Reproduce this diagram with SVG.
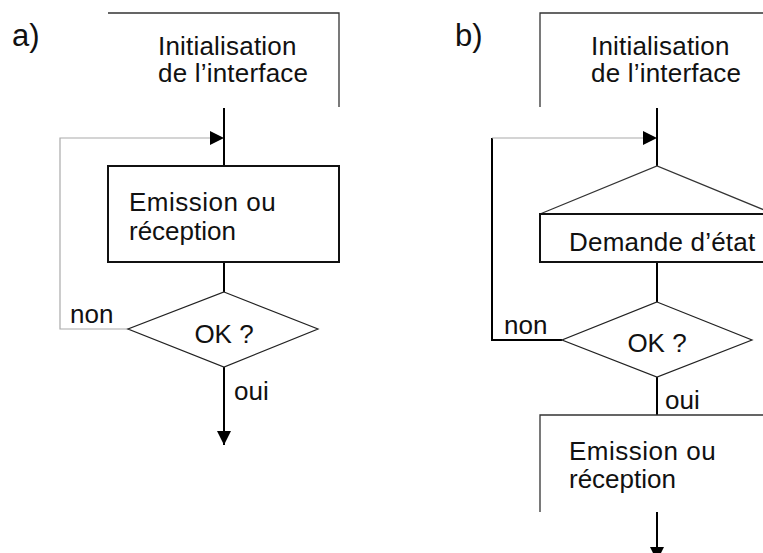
<svg xmlns="http://www.w3.org/2000/svg" width="763" height="553" viewBox="0 0 763 553">
<style>
text{font-family:"Liberation Sans",Arial,Helvetica,sans-serif;font-size:26px;fill:#111}
.lbl{font-size:31px}
.box{fill:none;stroke:#111;stroke-width:2}
.thin{fill:none;stroke:#333;stroke-width:1.3}
.dia{fill:#fff;stroke:#222;stroke-width:1.2}
.flow{fill:none;stroke:#000;stroke-width:2}
.loop{fill:none;stroke:#aaa;stroke-width:1.2}
</style>
<defs>
<marker id="ah" markerUnits="userSpaceOnUse" markerWidth="15" markerHeight="15" refX="14" refY="7" orient="auto">
<path d="M0,0 L14,7 L0,14 z" fill="#000"/>
</marker>
</defs>
<rect width="763" height="553" fill="#fff"/>
<text class="lbl" x="12" y="46">a)</text>
<text class="lbl" x="455" y="46">b)</text>
<g id="connectors">
<line class="flow" x1="224" y1="108" x2="224" y2="166"/>
<line class="flow" x1="224" y1="262" x2="224" y2="292"/>
<line class="flow" x1="224" y1="367" x2="224" y2="445" marker-end="url(#ah)"/>
<polyline class="loop" points="128,329 60,329 60,138 218,138"/>
<path d="M210,131 L224,138 L210,145 z" fill="#000"/>
<line class="flow" x1="657" y1="108" x2="657" y2="166"/>
<line class="flow" x1="657" y1="262" x2="657" y2="302"/>
<line class="flow" x1="657" y1="377" x2="657" y2="415"/>
<line class="flow" x1="657" y1="512" x2="657" y2="561" marker-end="url(#ah)"/>
<polyline class="flow" points="562,340 492,340 492,138"/>
<line class="loop" x1="492" y1="138" x2="650" y2="138"/>
<path d="M643,131 L657,138 L643,145 z" fill="#000"/>
</g>
<g id="a-init">
<polyline class="thin" points="108,13 339,13 339,107"/>
<text x="158" y="55" letter-spacing="0.2">Initialisation</text>
<text x="158" y="82" letter-spacing="0.2">de l’interface</text>
</g>
<g id="a-emission">
<rect class="box" x="108" y="166" width="231" height="96"/>
<text x="129" y="211" letter-spacing="0.5">Emission ou</text>
<text x="129" y="240">réception</text>
</g>
<g id="a-ok">
<polygon class="dia" points="224,292 318,329 224,367 128,329"/>
<text x="224" y="343" text-anchor="middle">OK ?</text>
</g>
<text x="70" y="323">non</text>
<text x="234" y="400">oui</text>
<g id="b-init">
<polyline class="thin" points="540,107 540,13 775,13"/>
<text x="591" y="55" letter-spacing="0.2">Initialisation</text>
<text x="591" y="82" letter-spacing="0.2">de l’interface</text>
</g>
<g id="b-demande">
<polyline class="thin" points="540,214 657,166 774,214"/>
<rect class="box" x="540" y="214" width="234" height="48"/>
<text x="569" y="251" letter-spacing="0.2">Demande d’état</text>
</g>
<g id="b-ok">
<polygon class="dia" points="657,302 752,340 657,377 562,340"/>
<text x="657" y="352" text-anchor="middle">OK ?</text>
</g>
<text x="504" y="334">non</text>
<text x="665" y="409">oui</text>
<g id="b-emission">
<polyline class="thin" points="540,512 540,415 775,415"/>
<text x="569" y="460" letter-spacing="0.5">Emission ou</text>
<text x="569" y="488">réception</text>
</g>
</svg>
